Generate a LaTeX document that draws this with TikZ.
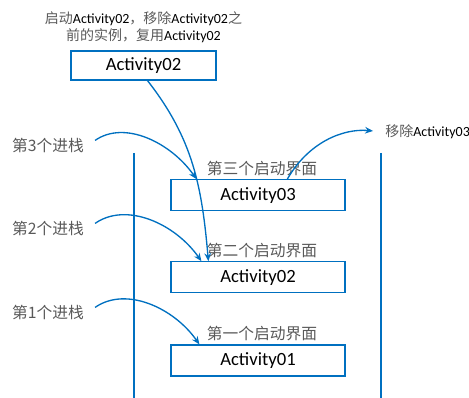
\documentclass[tikz,border=0pt]{standalone}
\usepackage{fontspec}
\setmainfont{Carlito}
\newfontfamily\cjk{Noto Sans CJK SC}
\usetikzlibrary{positioning,arrows.meta,calc}
\definecolor{stackblue}{HTML}{0070C0}
\definecolor{notegray}{HTML}{595959}
\newcommand{\zh}[1]{{\cjk\color{notegray}#1}}

\begin{document}
\begin{tikzpicture}[x=.75pt, y=-.75pt,
  actbox/.style={draw=stackblue, line width=.9pt, minimum width=130.5pt, minimum height=23.25pt, inner sep=0pt, font=\fontsize{14}{16}\selectfont},
  note/.style={font=\fontsize{11.8}{14}\selectfont},
  small note/.style={font=\fontsize{10.5}{12.75}\selectfont},
  push/.style={draw=stackblue, line width=1pt, -{Stealth[length=6pt,width=5pt]}}]
  \useasboundingbox (0,0) rectangle (469,398);
%
  \draw[stackblue, line width=1pt] (134,153) -- (134,398);
  \draw[stackblue, line width=1pt] (381,153) -- (381,398);
%
  \node[actbox] (A1) at (258,360.5) {Activity01};
  \node[actbox, above=38.25pt of A1] (A2) {Activity02};
  \node[actbox, above=37.5pt of A2] (A3) {Activity03};
  \node[note, above=-1pt of A1.north, xshift=3pt] (lbl1) {\zh{第一个启动界面}};
  \node[note, above=-1pt of A2.north, xshift=3pt] (lbl2) {\zh{第二个启动界面}};
  \node[note, above=-1pt of A3.north, xshift=3pt] (lbl3) {\zh{第三个启动界面}};
%
  \node[actbox, minimum width=108.75pt, minimum height=21.75pt] (T) at (143.5,65.5) {Activity02};
  \node[small note, align=center, above=2pt of T] (Tnote) {\zh{启动}Activity02\zh{，移除}Activity02\zh{之}\\\zh{前的实例，复用}Activity02};
%
  \node[note] (P3) at (48,145) {\zh{第3个进栈}};
  \node[note] (P2) at (48,228) {\zh{第2个进栈}};
  \node[note] (P1) at (48,312) {\zh{第1个进栈}};
  \node[small note, anchor=west, inner sep=0pt] (R) at (385,132) {\zh{移除}Activity03};
%
  \coordinate (A3in) at ($(A3.north west)+(26,0)$);
  \coordinate (A2in) at ($(A2.north west)+(31,0)$);
  \coordinate (A1in) at ($(A1.north west)+(29,0)$);
  \coordinate (A2reuse) at ($(A2.north west)+(38,0)$);
  \coordinate (A3out) at ($(A3.north west)+(117,0)$);
  \coordinate (Tout) at ($(T.south)+(4,0)$);
%
  \draw[push, shorten <=6pt] (P3.east) to[out=35, in=125] (A3in);
  \draw[push, shorten <=6pt] (P2.east) to[out=35, in=125] (A2in);
  \draw[push, shorten <=6pt] (P1.east) to[out=35, in=125] (A1in);
  \draw[push] (Tout) to[out=-52, in=95] (A2reuse);
  \draw[push, shorten >=9pt] (A3out) to[out=60, in=175] (R.west);
\end{tikzpicture}
\end{document}
